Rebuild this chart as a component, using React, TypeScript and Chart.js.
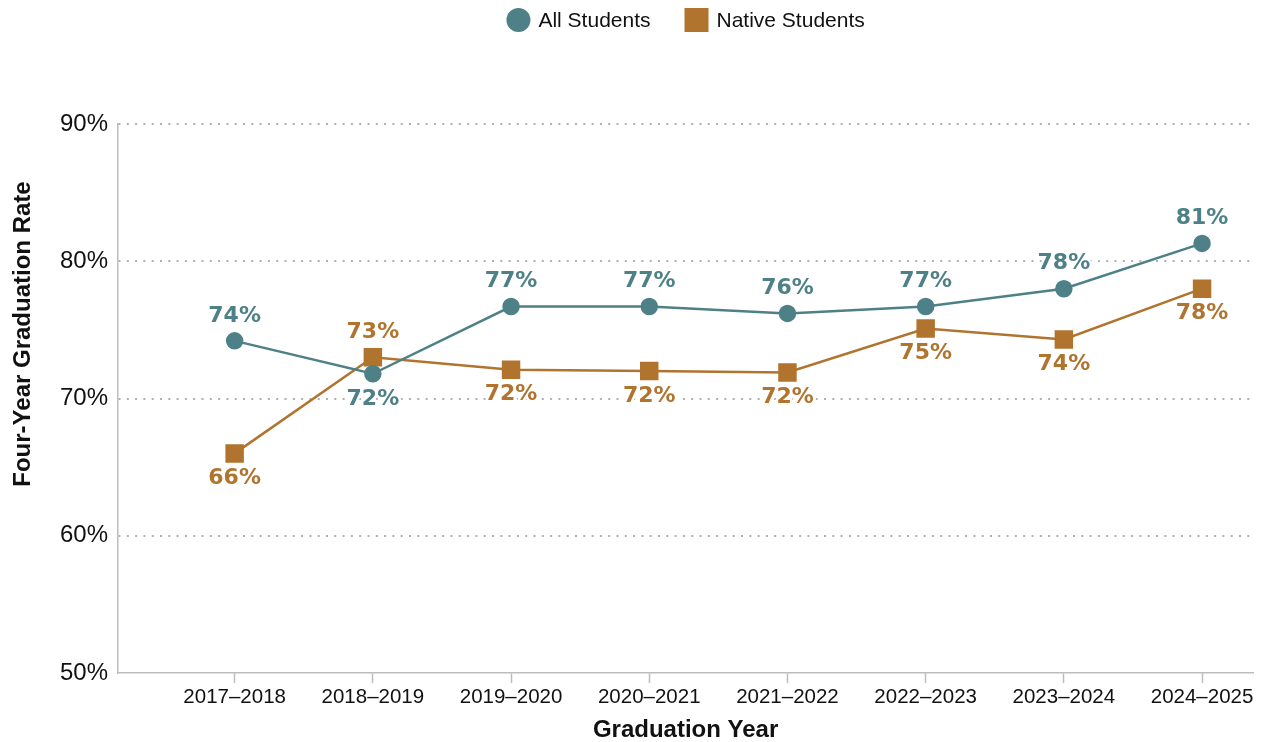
import React, { useEffect, useRef } from 'react';
import { Chart, registerables } from 'chart.js';

Chart.register(...registerables);

const categories = ['2017–2018', '2018–2019', '2019–2020', '2020–2021', '2021–2022', '2022–2023', '2023–2024', '2024–2025'];
const allStudents = [74.2, 71.8, 76.7, 76.7, 76.2, 76.7, 78.0, 81.3];
const nativeStudents = [66.0, 73.0, 72.1, 72.0, 71.9, 75.1, 74.3, 78.0];
const seriesNames = ['All Students', 'Native Students'];
const yTickValues = [50, 60, 70, 80, 90];
const yTitle = 'Four-Year Graduation Rate';
const xTitle = 'Graduation Year';

const allLabelSide = ['above', 'below', 'above', 'above', 'above', 'above', 'above', 'above'];
const nativeLabelSide = ['below', 'above', 'below', 'below', 'below', 'below', 'below', 'below'];

const TEAL = '#4e8087';
const ORANGE = '#b0742f';
const SANS = '"Liberation Sans", Arial, sans-serif';

const pointLabelPlugin = {
  id: 'pointLabels',
  afterDatasetsDraw(chart: any) {
    const ctx = chart.ctx;
    chart.data.datasets.forEach((ds: any, di: number) => {
      const meta = chart.getDatasetMeta(di);
      const sides = di === 0 ? allLabelSide : nativeLabelSide;
      meta.data.forEach((pt: any, i: number) => {
        const v = ds.data[i].y;
        const text = Math.round(v) + '%';
        const y = pt.y + (sides[i] === 'above' ? -25 : 25);
        ctx.save();
        ctx.font = 'bold 22px "DejaVu Sans", sans-serif';
        ctx.textAlign = 'center';
        ctx.textBaseline = 'middle';
        ctx.lineJoin = 'round';
        ctx.lineWidth = 5;
        ctx.strokeStyle = '#ffffff';
        ctx.strokeText(text, pt.x, y);
        ctx.fillStyle = ds.borderColor;
        ctx.fillText(text, pt.x, y);
        ctx.restore();
      });
    });
  },
};

const legendAndTitlePlugin = {
  id: 'customLegend',
  afterDraw(chart: any) {
    const ctx = chart.ctx;
    const area = chart.chartArea;
    const cx = (area.left + area.right) / 2;
    const cy = 20;
    ctx.save();
    ctx.font = '21px ' + SANS;
    const marker = 24;
    const gapText = 8;
    const gapItems = 34;
    const w0 = ctx.measureText(seriesNames[0]).width;
    const w1 = ctx.measureText(seriesNames[1]).width;
    const total = marker + gapText + w0 + gapItems + marker + gapText + w1;
    let x = cx - total / 2;
    ctx.fillStyle = TEAL;
    ctx.beginPath();
    ctx.arc(x + marker / 2, cy, marker / 2, 0, Math.PI * 2);
    ctx.fill();
    x += marker + gapText;
    ctx.fillStyle = '#111';
    ctx.textAlign = 'left';
    ctx.textBaseline = 'middle';
    ctx.fillText(seriesNames[0], x, cy + 1);
    x += w0 + gapItems;
    ctx.fillStyle = ORANGE;
    ctx.fillRect(x, cy - marker / 2, marker, marker);
    x += marker + gapText;
    ctx.fillStyle = '#111';
    ctx.fillText(seriesNames[1], x, cy + 1);

    // y-axis title
    ctx.translate(23, 334);
    ctx.rotate(-Math.PI / 2);
    ctx.font = 'bold 24px ' + SANS;
    ctx.textAlign = 'center';
    ctx.textBaseline = 'middle';
    ctx.fillStyle = '#111';
    ctx.fillText(yTitle, 0, 0);
    ctx.restore();
  },
};

export default function App() {
  const canvasRef = useRef<HTMLCanvasElement | null>(null);

  useEffect(() => {
    if (!canvasRef.current) return;
    const chart = new Chart(canvasRef.current, {
      type: 'line',
      data: {
        datasets: [
          {
            label: seriesNames[0],
            data: allStudents.map((v, i) => ({ x: i, y: v })),
            borderColor: TEAL,
            backgroundColor: TEAL,
            borderWidth: 2.5,
            pointStyle: 'circle',
            pointRadius: 7.5,
            pointHoverRadius: 7.5,
            tension: 0,
          },
          {
            label: seriesNames[1],
            data: nativeStudents.map((v, i) => ({ x: i, y: v })),
            borderColor: ORANGE,
            backgroundColor: ORANGE,
            borderWidth: 2.5,
            pointStyle: 'rect',
            pointRadius: 11.3,
            pointHoverRadius: 11.3,
            tension: 0,
          },
        ],
      },
      options: {
        animation: false,
        responsive: false,
        maintainAspectRatio: false,
        layout: { padding: { top: 124, right: 10, bottom: 0, left: 0 } },
        plugins: {
          legend: { display: false },
          tooltip: { enabled: false },
        },
        scales: {
          x: {
            type: 'linear',
            min: -0.844,
            max: 7.37,
            afterBuildTicks: (scale: any) => {
              scale.ticks = categories.map((_, i) => ({ value: i }));
            },
            afterFit: (scale: any) => {
              scale.height = 69;
            },
            ticks: {
              callback: (v: any) => categories[v] ?? '',
              color: '#111',
              font: { size: 20.5, family: SANS },
              padding: 2,
              maxRotation: 0,
              autoSkip: false,
            },
            grid: {
              display: true,
              drawOnChartArea: false,
              drawTicks: true,
              tickLength: 10,
              tickColor: '#bdbdbd',
              tickWidth: 1.5,
            },
            border: { display: true, color: '#bdbdbd', width: 1.5 },
            title: {
              display: true,
              text: xTitle,
              color: '#111',
              font: { size: 24, weight: 'bold', family: SANS, lineHeight: 1 },
              padding: { top: 0, bottom: 0 },
            },
          },
          y: {
            type: 'linear',
            min: 50,
            max: 90,
            afterBuildTicks: (scale: any) => {
              scale.ticks = yTickValues.map((v) => ({ value: v }));
            },
            afterFit: (scale: any) => {
              scale.width = 118;
            },
            ticks: {
              callback: (v: any) => v + '%',
              color: '#111',
              font: { size: 24, family: SANS },
              padding: 10,
            },
            grid: {
              display: true,
              drawTicks: false,
              color: (ctx: any) => (ctx.tick && ctx.tick.value === 50 ? 'rgba(0,0,0,0)' : '#b0b0b0'),
              lineWidth: 2,
            },
            border: { display: true, color: '#bdbdbd', width: 1.5, dash: [2, 6.3] },
            title: { display: false },
          },
        },
      },
      plugins: [pointLabelPlugin, legendAndTitlePlugin],
    } as any);
    return () => chart.destroy();
  }, []);

  return (
    <div style={{ position: 'absolute', left: 0, top: 0, width: 1267, height: 742, background: '#fff' }}>
      <canvas ref={canvasRef} width={1267} height={742} style={{ width: 1267, height: 742 }} />
    </div>
  );
}
